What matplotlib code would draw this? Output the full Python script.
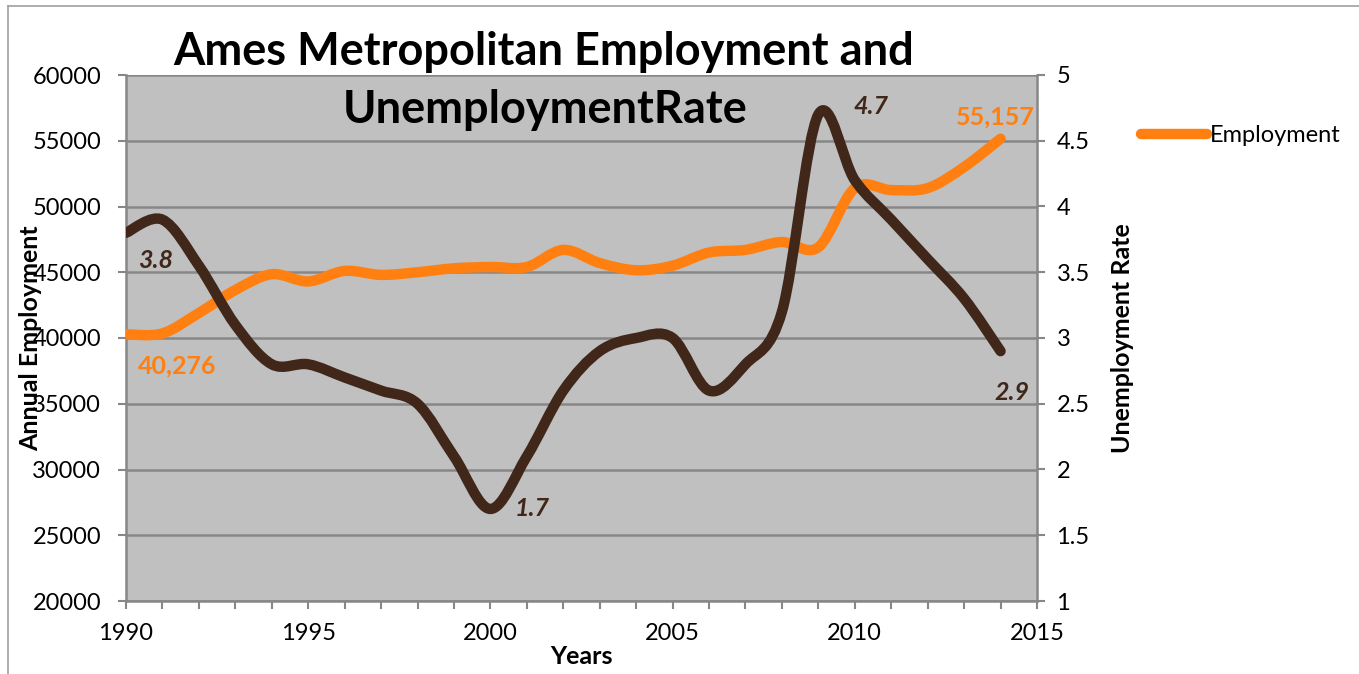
import numpy as np
import matplotlib
matplotlib.use("Agg")
import matplotlib.pyplot as plt
from matplotlib.path import Path
from matplotlib.patches import PathPatch
from matplotlib.lines import Line2D

# ------------------------------------------------------------------
# data
# ------------------------------------------------------------------
years = [1990, 1991, 1992, 1993, 1994, 1995, 1996, 1997, 1998, 1999,
         2000, 2001, 2002, 2003, 2004, 2005, 2006, 2007, 2008, 2009,
         2010, 2011, 2012, 2013, 2014]
employment = [40276, 40350, 41900, 43650, 44850, 44300, 45100, 44800, 45000, 45300,
              45400, 45400, 46700, 45700, 45150, 45500, 46500, 46700, 47300, 46900,
              51400, 51250, 51400, 53000, 55157]
unemp_rate = [3.8, 3.9, 3.55, 3.1, 2.8, 2.8, 2.7, 2.6, 2.5, 2.1,
              1.7, 2.1, 2.6, 2.9, 3.0, 3.0, 2.6, 2.8, 3.2, 4.7,
              4.2, 3.9, 3.6, 3.3, 2.9]

ORANGE = "#FF8010"
BROWN = "#40271A"
GRID = "#878787"
plt.rcParams["font.family"] = ["Lato", "DejaVu Sans"]


def smooth_path(xs, ys):
    """Excel-like smoothed line: cubic Bezier segments through every point."""
    pts = np.column_stack([xs, ys]).astype(float)
    ext = np.vstack([pts[0], pts, pts[-1]])
    verts = [pts[0]]
    codes = [Path.MOVETO]
    for i in range(len(pts) - 1):
        p0, p1, p2, p3 = ext[i], ext[i + 1], ext[i + 2], ext[i + 3]
        verts += [p1 + (p2 - p0) / 6.0, p2 - (p3 - p1) / 6.0, p2]
        codes += [Path.CURVE4] * 3
    return Path(verts, codes)


fig = plt.figure(figsize=(13.59, 6.74), dpi=100)
ax = fig.add_axes([126 / 1359, 73 / 674, 911 / 1359, 526 / 674])
ax.set_facecolor("#C0C0C0")
ax2 = ax.twinx()

# employment (left axis)
ax.add_patch(PathPatch(smooth_path(years, employment), fill=False, edgecolor=ORANGE,
                       lw=7.5, capstyle="round", joinstyle="round", zorder=3))
# unemployment rate (right axis)
ax2.add_patch(PathPatch(smooth_path(years, unemp_rate), fill=False, edgecolor=BROWN,
                        lw=7.5, capstyle="round", joinstyle="round", zorder=3))

ax.set_xlim(1990, 2015)
ax.set_ylim(20000, 60000)
ax2.set_ylim(1, 5)
ax.set_xticks(np.arange(1990, 2016, 5))
ax.set_xticks(np.arange(1990, 2016, 1), minor=True)
ax.set_yticks(np.arange(20000, 60001, 5000))
ax2.set_yticks(np.arange(1, 5.01, 0.5))
ax2.set_yticklabels(["1", "1.5", "2", "2.5", "3", "3.5", "4", "4.5", "5"])

ax.grid(axis="y", color=GRID, lw=1.8, zorder=1)
ax.set_axisbelow(True)
for a in (ax, ax2):
    for s in a.spines.values():
        s.set_visible(False)
ax.spines["bottom"].set_visible(True)
ax.spines["left"].set_visible(True)
ax2.spines["right"].set_visible(True)
for s in (ax.spines["bottom"], ax.spines["left"], ax2.spines["right"]):
    s.set_color(GRID)
    s.set_linewidth(1.8)

ax.tick_params(axis="y", which="major", direction="out", length=6, width=1.5,
               color=GRID, labelsize=17, pad=12)
ax.tick_params(axis="x", which="major", direction="out", length=6, width=1.5,
               color=GRID, labelsize=17, pad=10)
ax.tick_params(axis="x", which="minor", direction="out", length=6, width=1.5, color=GRID)
ax2.tick_params(axis="y", direction="out", length=6, width=1.5, color=GRID,
                labelsize=17, pad=8)

ax.set_xlabel("Years", fontsize=18, fontweight="bold")
ax.xaxis.set_label_coords(0.5, -0.083)
ax.set_ylabel("Annual Employment", fontsize=18, fontweight="bold")
ax.yaxis.set_label_coords(-0.092, 0.5)
ax2.set_ylabel("Unemployment Rate", fontsize=18, fontweight="bold")
ax2.yaxis.set_label_coords(1.081, 0.5)

# data labels
lab = dict(fontsize=18, fontweight="bold", ha="center", va="center")
ax2.annotate(f"{unemp_rate[0]:.1f}", (years[0], unemp_rate[0]), xytext=(21, -20),
             textcoords="offset points", color=BROWN, style="italic", **lab)
ax2.annotate(f"{unemp_rate[10]:.1f}", (years[10], unemp_rate[10]), xytext=(30, 0),
             textcoords="offset points", color=BROWN, style="italic", **lab)
ax2.annotate(f"{unemp_rate[19]:.1f}", (years[19], unemp_rate[19]), xytext=(38, 6),
             textcoords="offset points", color=BROWN, style="italic", **lab)
ax2.annotate(f"{unemp_rate[24]:.1f}", (years[24], unemp_rate[24]), xytext=(8, -30),
             textcoords="offset points", color=BROWN, style="italic", **lab)
ax.annotate(f"{employment[0]:,}", (years[0], employment[0]), xytext=(37, -23),
            textcoords="offset points", color=ORANGE, **lab)
ax.annotate(f"{employment[24]:,}", (years[24], employment[24]), xytext=(-4, 16),
            textcoords="offset points", color=ORANGE, **lab)

# title
fig.text(544 / 1359, 1 - 52 / 674, "Ames Metropolitan Employment and",
         fontsize=32.5, fontweight="bold", ha="center", va="center")
fig.text(545 / 1359, 1 - 110 / 674, "UnemploymentRate",
         fontsize=32.5, fontweight="bold", ha="center", va="center")

# legend (employment only)
ax.legend([Line2D([0], [0], color=ORANGE, lw=7.5, solid_capstyle="round")],
          ["Employment"], loc="center left", bbox_to_anchor=(1120 / 1359, 1 - 136 / 674),
          bbox_transform=fig.transFigure, frameon=False, fontsize=17,
          handlelength=2.8, handletextpad=0.12)

# chart border (left and top edges)
fig.add_artist(Line2D([8 / 1359, 8 / 1359], [0, 1 - 6 / 674], color="#A0A0A0", lw=1.2,
                      transform=fig.transFigure))
fig.add_artist(Line2D([8 / 1359, 1], [1 - 6 / 674, 1 - 6 / 674], color="#A0A0A0", lw=1.2,
                      transform=fig.transFigure))

fig.savefig("out.png", dpi=100)
